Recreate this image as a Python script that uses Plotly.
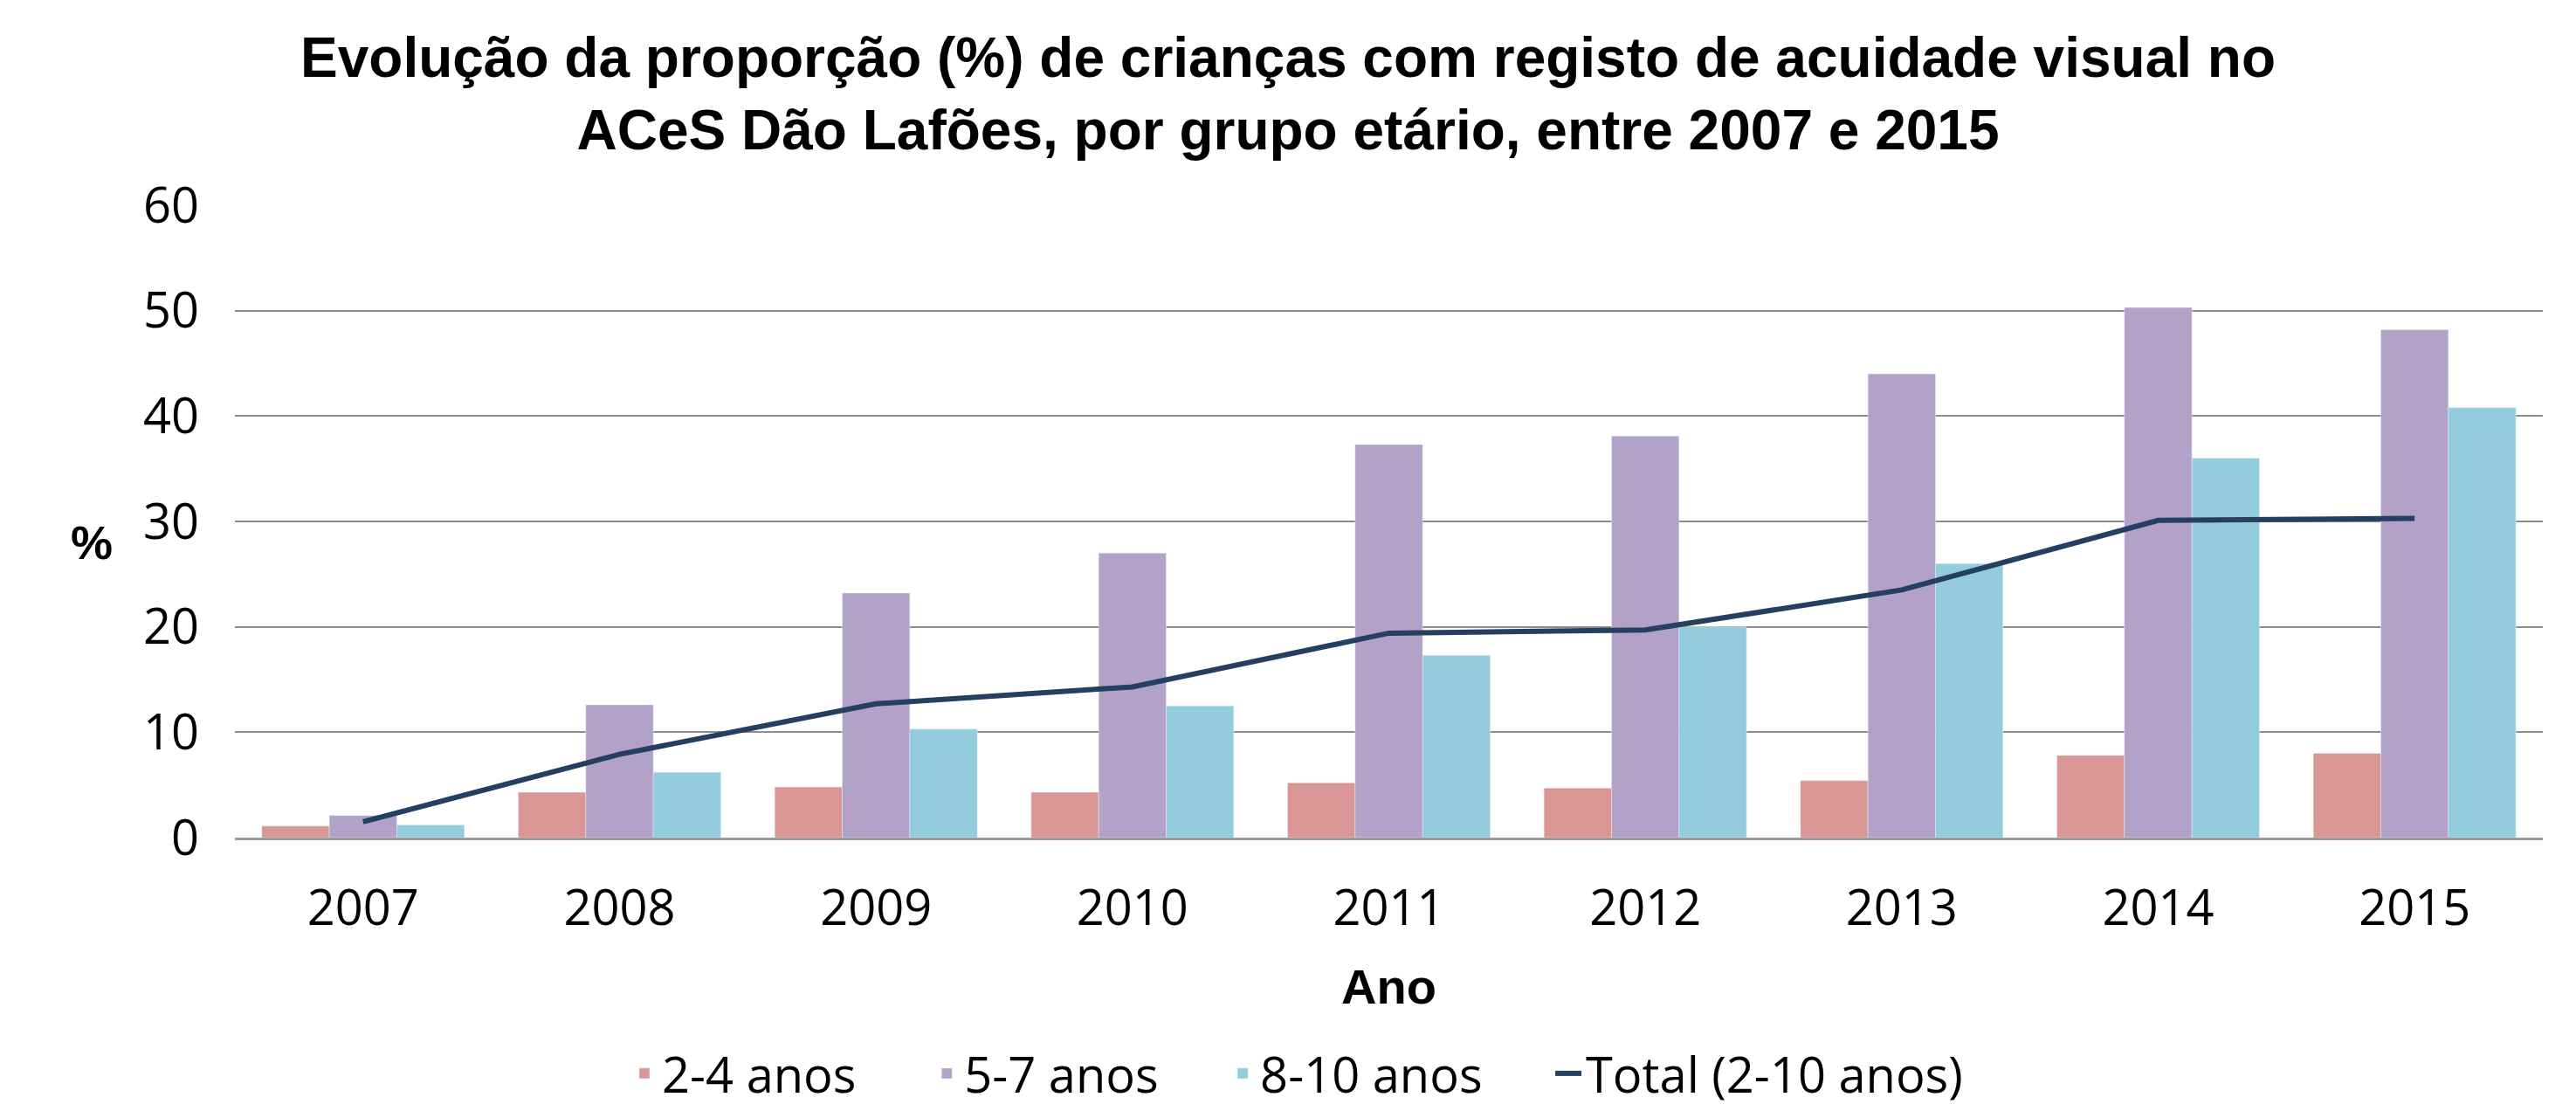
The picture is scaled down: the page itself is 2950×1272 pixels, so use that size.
import plotly.graph_objects as go

# data
years = ["2007", "2008", "2009", "2010", "2011", "2012", "2013", "2014", "2015"]
age_2_4 = [1.1, 4.3, 4.8, 4.3, 5.2, 4.7, 5.4, 7.8, 8.0]
age_5_7 = [2.1, 12.6, 23.2, 27.0, 37.3, 38.1, 44.0, 50.3, 48.2]
age_8_10 = [1.2, 6.2, 10.3, 12.5, 17.3, 20.0, 26.0, 36.0, 40.8]
total_2_10 = [1.5, 7.9, 12.7, 14.3, 19.4, 19.7, 23.5, 30.1, 30.3]

body_font = "Open Sans, Noto Sans, sans-serif"
bold_font = "Liberation Sans, Arial, sans-serif"
tick_font = dict(family=body_font, size=56, color="black")

fig = go.Figure()
fig.add_trace(go.Bar(x=years, y=age_2_4, name="2-4 anos", marker_color="#D99694", legend="legend"))
fig.add_trace(go.Bar(x=years, y=age_5_7, name="5-7 anos", marker_color="#B3A2C7", legend="legend2"))
fig.add_trace(go.Bar(x=years, y=age_8_10, name="8-10 anos", marker_color="#93CDDD", legend="legend3"))
fig.add_trace(go.Scatter(x=years, y=total_2_10, name="Total (2-10 anos)", mode="lines",
                         line=dict(color="#243F60", width=6), legend="legend4"))

# the "%" label is horizontal in the reference, so it is an annotation
fig.add_annotation(text="<b>%</b>", xref="paper", x=-0.072, yref="y", y=28,
                   showarrow=False, font=dict(family=bold_font, size=54, color="black"))


# one legend per entry so the spacing can follow the reference
def legend_at(x):
    return dict(orientation="h", x=x, xanchor="left", xref="container",
                y=0, yanchor="bottom", yref="container",
                font=dict(family=body_font, size=56, color="black"))


fig.update_layout(
    width=2934, height=1264,
    margin=dict(l=261, r=30, t=227, b=313),
    paper_bgcolor="white", plot_bgcolor="white",
    barmode="group", bargap=0.21, bargroupgap=0,
    showlegend=True,
    title=dict(
        text="Evolução da proporção (%) de crianças com registo de acuidade visual no<br>"
             "ACeS Dão Lafões, por grupo etário, entre 2007 e 2015",
        font=dict(family=bold_font, size=64, color="black", weight="bold"),
        x=0.5, xanchor="center", xref="container", y=0.937, yanchor="top",
    ),
    legend=legend_at(0.242),
    legend2=legend_at(0.360),
    legend3=legend_at(0.4755),
    legend4=legend_at(0.6026),
    xaxis=dict(
        tickfont=tick_font, showgrid=False, showline=True, linecolor="#9A9A9A", linewidth=3,
        ticks="", ticklabelstandoff=30,
        title=dict(text="<b>Ano</b>", font=dict(family=bold_font, size=56, color="black"),
                   standoff=36),
    ),
    yaxis=dict(
        range=[0, 60], dtick=10, tickfont=tick_font, showgrid=True, gridcolor="#8C8C8C", gridwidth=2,
        zeroline=False, ticks="", ticklabelstandoff=40,
    ),
)

fig.write_html("out.html")
